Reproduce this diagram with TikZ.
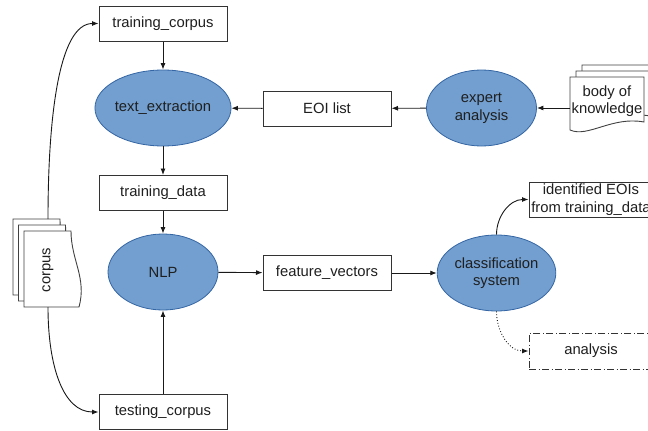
\documentclass[tikz,border=0pt]{standalone}
\usepackage{fontspec}
\setmainfont{Liberation Sans}
\usetikzlibrary{shapes.geometric,arrows.meta}
\definecolor{blobfill}{HTML}{729FCF}
\definecolor{blobline}{HTML}{3465A4}
\begin{document}
\begin{tikzpicture}[x=1pt,y=-1pt,
  every node/.style={font=\fontsize{14.8}{17.5}\selectfont, text=black!88},
  box/.style={draw=black!80, line width=1pt, fill=white, minimum width=128pt,
    minimum height=35pt, inner sep=0pt, align=center},
  blob/.style={ellipse, draw=blobline, line width=0.8pt, fill=blobfill,
    minimum width=110pt, minimum height=76pt, inner sep=0pt, align=center},
  arr/.style={-{Latex[length=6.5pt,width=5pt]}, line width=0.9pt, draw=black!90},
  page/.style={draw=black!75, line width=0.9pt, fill=white}
]
\useasboundingbox (0,0) rectangle (648,431);

% stacked document: body of knowledge
\foreach \d in {12,6,0}
  \draw[page, shift={(\d,-\d)}] (570,77) -- (644,77) -- (644,122)
    .. controls (612,116) and (588,138) .. (570,130) -- cycle;
\node[align=center] (bok) at (607,101) {body of\\knowledge};
\coordinate (bokin) at (570,108);

% stacked document: corpus (turned on its side)
\foreach \d in {12,6,0}
  \draw[page, shift={({-0.92*\d},-\d)}] (24,231) -- (71,231)
    .. controls (71,260) and (87,278) .. (79,307) -- (24,307) -- cycle;
\node[rotate=90] (corpus) at (48,270) {corpus};
\coordinate (corpustop) at (48,219);
\coordinate (corpusbot) at (48,307);

% process boxes and ellipses
\node[box] (trcorpus) at (163,23.5) {training\_corpus};
\node[blob] (textext) at (163,108) {text\_extraction};
\node[box] (eoi) at (327,108.5) {EOI list};
\node[blob] (expert) at (481.5,108) {expert\\analysis};
\node[box] (trdata) at (163,193) {training\_data};
\node[blob] (nlp) at (163,272) {NLP};
\node[box] (feat) at (327,273) {feature\_vectors};
\node[blob, minimum width=107pt] (classif) at (496.5,273) {classification\\system};
\node[box] (testing) at (163,412) {testing\_corpus};
\node[box, minimum width=124pt] (ident) at (591,199.5) {identified EOIs\\from training\_data};
\node[box, minimum width=124pt, minimum height=36pt,
  dash pattern=on 7pt off 2.5pt on 1pt off 2.5pt] (analysis) at (591,351) {analysis};

% connectors
\draw[arr] (trcorpus) -- (textext);
\draw[arr] (eoi) -- (textext);
\draw[arr] (expert) -- (eoi);
\draw[arr] (bokin) -- (expert);
\draw[arr] (textext) -- (trdata);
\draw[arr] (trdata) -- (nlp);
\draw[arr] (nlp) -- (feat);
\draw[arr] (feat) -- (classif);
\draw[arr] (testing) -- (nlp);
\draw[arr] (corpustop) .. controls +(0,-100) and +(-40,0) .. (trcorpus.west);
\draw[arr] (corpusbot) .. controls +(0,60) and +(-35,0) .. (testing.west);
\draw[arr] (classif.north) to[out=90,in=180] (ident.west);
\draw[arr, dotted] (classif.south) to[out=-90,in=180] (analysis.west);
\end{tikzpicture}
\end{document}
